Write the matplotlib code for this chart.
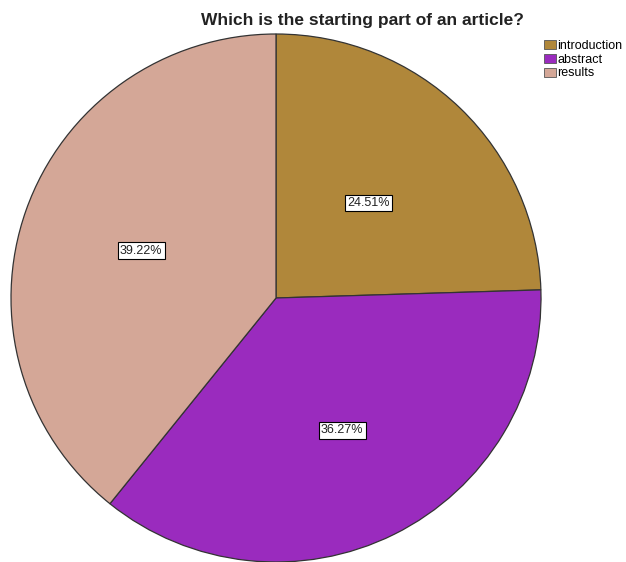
import matplotlib
matplotlib.use("Agg")
import numpy as np
import matplotlib.pyplot as plt
from matplotlib.patches import Patch

categories = ["introduction", "abstract", "results"]
shares = [24.51, 36.27, 39.22]
colors = ["#B0873A", "#9A2BBE", "#D4A797"]
# radial placement of each percentage box (fraction of radius)
label_radius = [0.50, 0.56, 0.54]

plt.rcParams["font.family"] = ["Liberation Sans", "DejaVu Sans"]

W, H = 626, 562
fig = plt.figure(figsize=(W / 100, H / 100), dpi=100)
fig.patch.set_facecolor("white")

# pie placed in pixel box
left, right, top, bottom = 11, 541, 34, 562
ax = fig.add_axes([left / W, (H - bottom) / H, (right - left) / W, (bottom - top) / H])

wedges, texts, autotexts = ax.pie(
    shares,
    colors=colors,
    startangle=90,
    counterclock=False,
    autopct="%.2f%%",
    pctdistance=0.5,
    wedgeprops=dict(edgecolor="#333333", linewidth=0.9),
    textprops=dict(fontsize=9, color="#222222"),
)
for w, t, r in zip(wedges, autotexts, label_radius):
    mid = np.deg2rad((w.theta1 + w.theta2) / 2)
    t.set_position((r * np.cos(mid), r * np.sin(mid)))
    t.set_bbox(dict(facecolor="white", edgecolor="black", linewidth=0.8, pad=1.6))
ax.set_aspect("auto")
ax.set_xlim(-1, 1)
ax.set_ylim(-1, 1)
ax.axis("off")

fig.text(362 / W, 1 - 20 / H, "Which is the starting part of an article?",
         ha="center", va="center", fontsize=12.5, fontweight="bold", color="#222222")

handles = [Patch(facecolor=c, edgecolor="#555555", linewidth=0.6) for c in colors]
fig.legend(handles, categories, loc="upper left", bbox_to_anchor=(535 / W, 1 - 31 / H),
           frameon=False, fontsize=9, handlelength=1.0, handleheight=0.75,
           handletextpad=0.1, labelspacing=0.15, borderpad=0.2)

fig.savefig("out.png", dpi=100)
